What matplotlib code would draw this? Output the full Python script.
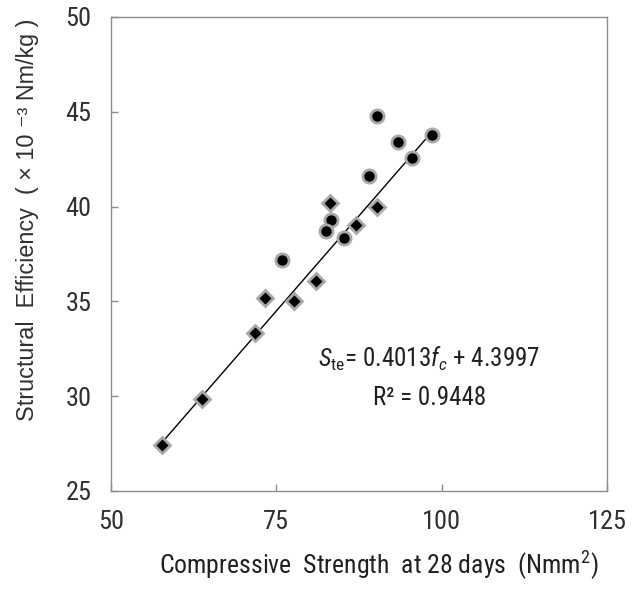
import matplotlib
matplotlib.use("Agg")
import matplotlib.pyplot as plt
import numpy as np

plt.rcParams['font.family'] = ['Roboto Condensed', 'Liberation Sans', 'DejaVu Sans']
plt.rcParams['mathtext.fontset'] = 'custom'
plt.rcParams['mathtext.rm'] = 'Roboto Condensed'
plt.rcParams['mathtext.it'] = 'Roboto Condensed:italic'

# circles series
circ_fc = [90.2, 93.4, 98.5, 95.5, 89.0, 83.3, 82.5, 85.3, 75.8]
circ_st = [44.8, 43.4, 43.8, 42.55, 41.6, 39.3, 38.7, 38.35, 37.2]
# diamonds series
diam_fc = [83.1, 90.2, 87.05, 81.0, 73.3, 77.6, 71.8, 63.7, 57.7]
diam_st = [40.2, 40.0, 39.05, 36.1, 35.2, 35.0, 33.35, 29.85, 27.4]

slope = 0.4013
intercept = 4.3997
fit_x = [57.7, 98.5]

xticks = [50, 75, 100, 125]
yticks = [25, 30, 35, 40, 45, 50]

fig = plt.figure(figsize=(6.44, 5.9), dpi=100)
ax = fig.add_axes([111/644, 1 - 491/590, (607-111)/644, (491-17)/590])

fx = np.array(fit_x)
ax.plot(fx, slope*fx + intercept, color='black', lw=1.0, zorder=2)

ax.plot(circ_fc, circ_st, 'o', ms=9.5, mfc='black', mec='#a8a8a8', mew=2.0, zorder=3)
ax.plot(diam_fc, diam_st, 'D', ms=8.0, mfc='black', mec='#a8a8a8', mew=2.0, zorder=3)

ax.set_xlim(50, 125)
ax.set_ylim(25, 50)
ax.set_xticks(xticks)
ax.set_yticks(yticks)
for s in ax.spines.values():
    s.set_color('#8c8c8c')
    s.set_linewidth(1.0)
ax.tick_params(direction='in', length=5, width=1, color='#8c8c8c',
               labelsize=19, labelcolor='#303030')
ax.tick_params(axis='x', pad=14)
ax.tick_params(axis='y', pad=14)

ax.text(98.1, 31.54, r'$S_{\rm te}$= 0.4013$f_c$ + 4.3997', ha='center', va='baseline',
        fontsize=18, color='#202020')
ax.text(98.1, 29.54, 'R² = 0.9448', ha='center', va='baseline',
        fontsize=18, color='#202020')

fig.text(379/644, 1 - 574/590, r'Compressive  Strength  at 28 days  (Nmm$^{2}$)',
         ha='center', va='baseline', fontsize=18.5, color='#202020')
fig.text(34/644, 1 - 220/590,
         'Structural  Efficiency  ( \u00d7 10 \u207b\u00b3 Nm/kg )',
         ha='center', va='baseline', rotation=90, rotation_mode='anchor',
         fontsize=16.8, color='#303030', family=['Liberation Sans', 'DejaVu Sans'])

fig.savefig('out.png', dpi=100)
